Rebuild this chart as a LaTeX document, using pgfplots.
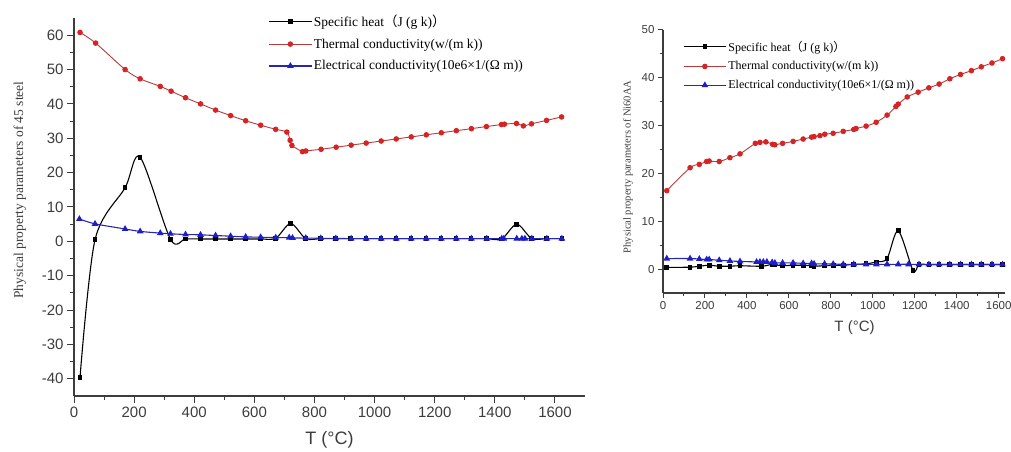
\documentclass[border=0pt]{standalone}
\usepackage{pgfplots}
\pgfplotsset{compat=1.18}
\usepackage{fontspec}
\setmainfont{Liberation Serif}
\setsansfont{Liberation Sans}
\newfontfamily\cjk{Noto Sans CJK SC}

\definecolor{rd}{RGB}{215,35,35}
\definecolor{rdl}{RGB}{185,60,60}
\definecolor{bl}{RGB}{30,30,200}
\definecolor{bll}{RGB}{40,40,175}
\definecolor{axgray}{RGB}{60,60,60}

\pgfplotstableread{
T v
20 -39.6
70 0.5
170 15.6
220 24.5
321 0.6
371 0.7
421 0.7
471 0.7
521 0.7
571 0.7
621 0.7
671 0.9
721 5.2
771 0.8
821 0.8
871 0.8
921 0.8
971 0.8
1021 0.8
1071 0.8
1121 0.8
1171 0.8
1221 0.8
1271 0.8
1321 0.8
1373 0.8
1423 0.7
1473 5.0
1523 0.8
1573 0.8
1623 0.8
}\heatA

\pgfplotstableread{
T v
20 60.8
72 57.7
170 50.0
220 47.3
287 45.1
323 43.7
371 41.8
421 40.0
471 38.2
521 36.6
571 35.1
621 33.8
671 32.6
708 31.8
719 29.4
725 27.9
760 26.1
771 26.3
822 26.8
872 27.4
922 28.0
972 28.6
1022 29.2
1072 29.8
1122 30.4
1172 31.0
1222 31.6
1272 32.2
1322 32.8
1372 33.4
1422 34.0
1432 34.1
1472 34.3
1495 33.6
1522 34.2
1572 35.2
1622 36.2
}\thermA

\pgfplotstableread{
T v
18 6.5
70 5.1
170 3.6
220 2.9
287 2.4
321 2.2
371 2.0
421 1.9
471 1.7
521 1.5
571 1.3
621 1.2
671 1.1
716 1.1
727 1.0
771 0.95
821 0.9
871 0.85
922 0.8
972 0.8
1022 0.8
1072 0.8
1122 0.8
1172 0.8
1222 0.8
1272 0.8
1322 0.8
1373 0.8
1423 0.8
1430 0.8
1473 0.8
1490 0.8
1500 0.8
1523 0.8
1573 0.8
1623 0.8
}\elecA

\pgfplotstableread{
T v
18 0.35
129 0.4
173 0.6
220 0.8
268 0.6
319 0.6
367 0.7
470 0.6
520 1.0
533 0.9
570 0.7
620 0.8
668 0.8
708 0.7
720 0.6
770 0.7
811 0.8
859 0.8
909 1.0
968 1.1
1017 1.5
1068 2.2
1121 8.0
1192 -0.3
1220 0.95
1267 0.95
1316 0.95
1367 0.95
1418 0.95
1470 0.95
1517 0.95
1568 0.95
1618 0.95
}\heatB

\pgfplotstableread{
T v
18 16.4
129 21.2
173 21.9
208 22.5
220 22.6
268 22.5
319 23.3
367 24.1
440 26.3
462 26.5
490 26.6
522 26.1
533 26.0
570 26.3
620 26.7
668 27.2
708 27.6
720 27.7
748 27.9
771 28.2
811 28.4
859 28.8
909 29.2
920 29.4
968 29.9
1016 30.7
1068 32.2
1110 34.0
1121 34.5
1164 36.0
1216 37.0
1267 37.9
1316 38.7
1367 39.8
1418 40.7
1470 41.5
1517 42.3
1568 43.1
1618 44.0
}\thermB

\pgfplotstableread{
T v
18 2.2
129 2.2
173 2.1
208 2.0
220 2.0
268 1.85
319 1.7
367 1.6
446 1.5
462 1.5
478 1.5
495 1.5
520 1.4
533 1.3
570 1.3
620 1.3
668 1.2
708 1.2
720 1.1
770 1.1
811 1.05
859 1.0
909 1.0
968 1.0
1017 1.0
1068 1.0
1121 1.0
1170 1.0
1220 0.95
1267 0.95
1316 0.95
1367 0.95
1418 0.95
1470 0.95
1517 0.95
1568 0.95
1618 0.95
}\elecB

\pgfplotsset{
  panel/.style={
    scale only axis,
    axis x line*=bottom, axis y line*=left,
    axis line style={axgray, line width=1.2pt},
    tick style={axgray, line width=1pt},
    tick align=outside,
    minor x tick num=1, minor y tick num=1,
    /pgf/number format/assume math mode=true,
    /pgf/number format/1000 sep={},
    legend style={draw=none, fill=none, cells={anchor=west}},
    legend image code/.code={%
      \draw[mark repeat=2, mark phase=2, #1] plot coordinates {(0pt,0pt) (21pt,0pt) (42pt,0pt)};},
  },
  heat/.style={black, line width=1.1pt, smooth, mark=square*, mark size=1.8pt, mark options={solid}},
  therm/.style={rdl, line width=0.9pt, smooth, mark=*, mark size=2.3pt, mark options={rd, fill=rd}},
  elec/.style={bll, line width=1.1pt, smooth, mark=triangle*, mark size=2.8pt, mark options={bl, fill=bl}},
}

\begin{document}
\begin{tikzpicture}[x=1pt,y=1pt]
\begin{axis}[panel,
  at={(74pt,56pt)}, anchor=south west,
  width=511pt, height=378pt,
  xmin=0, xmax=1700, ymin=-45, ymax=65,
  xtick={0,200,...,1600}, ytick={-40,-30,...,60},
  major tick length=7pt, minor tick length=4pt,
  tick label style={font=\sffamily\fontsize{15}{15}\selectfont, text=axgray},
  xlabel={T (°C)},
  xlabel style={font=\sffamily\fontsize{18}{18}\selectfont, text=axgray, at={(axis description cs:0.5,-0.115)}, anchor=center},
  ylabel={Physical property parameters of 45 steel},
  ylabel style={font=\fontsize{13.5}{14}\selectfont, text=axgray, at={(axis description cs:-0.106,0.545)}, anchor=center},
  legend style={at={(axis description cs:0.375,1.02)}, anchor=north west,
    font=\fontsize{13.5}{14}\selectfont, row sep=7pt},
]
\addplot[heat] table[x=T, y=v] {\heatA};
\addlegendentry{Specific heat{\cjk （}J (g k){\cjk ）}}
\addplot[therm] table[x=T, y=v] {\thermA};
\addlegendentry{Thermal conductivity(w/(m k))}
\addplot[elec] table[x=T, y=v] {\elecA};
\addlegendentry{Electrical conductivity(10e6×1/(Ω m))}
\node[font=\fontsize{15}{15}\selectfont] at (axis description cs:-0.106,0.976) {(a)};
\end{axis}

\begin{axis}[panel,
  at={(663pt,159pt)}, anchor=south west,
  width=342pt, height=263pt,
  xmin=0, xmax=1630, ymin=-5, ymax=50,
  xtick={0,200,...,1600}, ytick={0,10,...,50},
  major tick length=5pt, minor tick length=3pt,
  tick label style={font=\sffamily\fontsize{11.5}{12}\selectfont, text=axgray},
  xlabel={T (°C)},
  xlabel style={font=\sffamily\fontsize{15}{15}\selectfont, text=axgray, at={(axis description cs:0.56,-0.13)}, anchor=center},
  ylabel={Physical property parameters of Ni60AA},
  ylabel style={font=\fontsize{10.5}{11}\selectfont, text=axgray, at={(axis description cs:-0.102,0.479)}, anchor=center},
  legend style={at={(axis description cs:0.05,0.975)}, anchor=north west,
    font=\fontsize{12}{12}\selectfont, row sep=5pt},
]
\addplot[heat] table[x=T, y=v] {\heatB};
\addlegendentry{Specific heat{\cjk （}J (g k){\cjk ）}}
\addplot[therm] table[x=T, y=v] {\thermB};
\addlegendentry{Thermal conductivity(w/(m k))}
\addplot[elec] table[x=T, y=v] {\elecB};
\addlegendentry{Electrical conductivity(10e6×1/(Ω m))}
\node[font=\fontsize{12}{12}\selectfont] at (axis description cs:-0.096,1.0) {(b)};
\end{axis}
\pgfresetboundingbox
\path[use as bounding box] (0,0) rectangle (1011,452);
\end{tikzpicture}
\end{document}
